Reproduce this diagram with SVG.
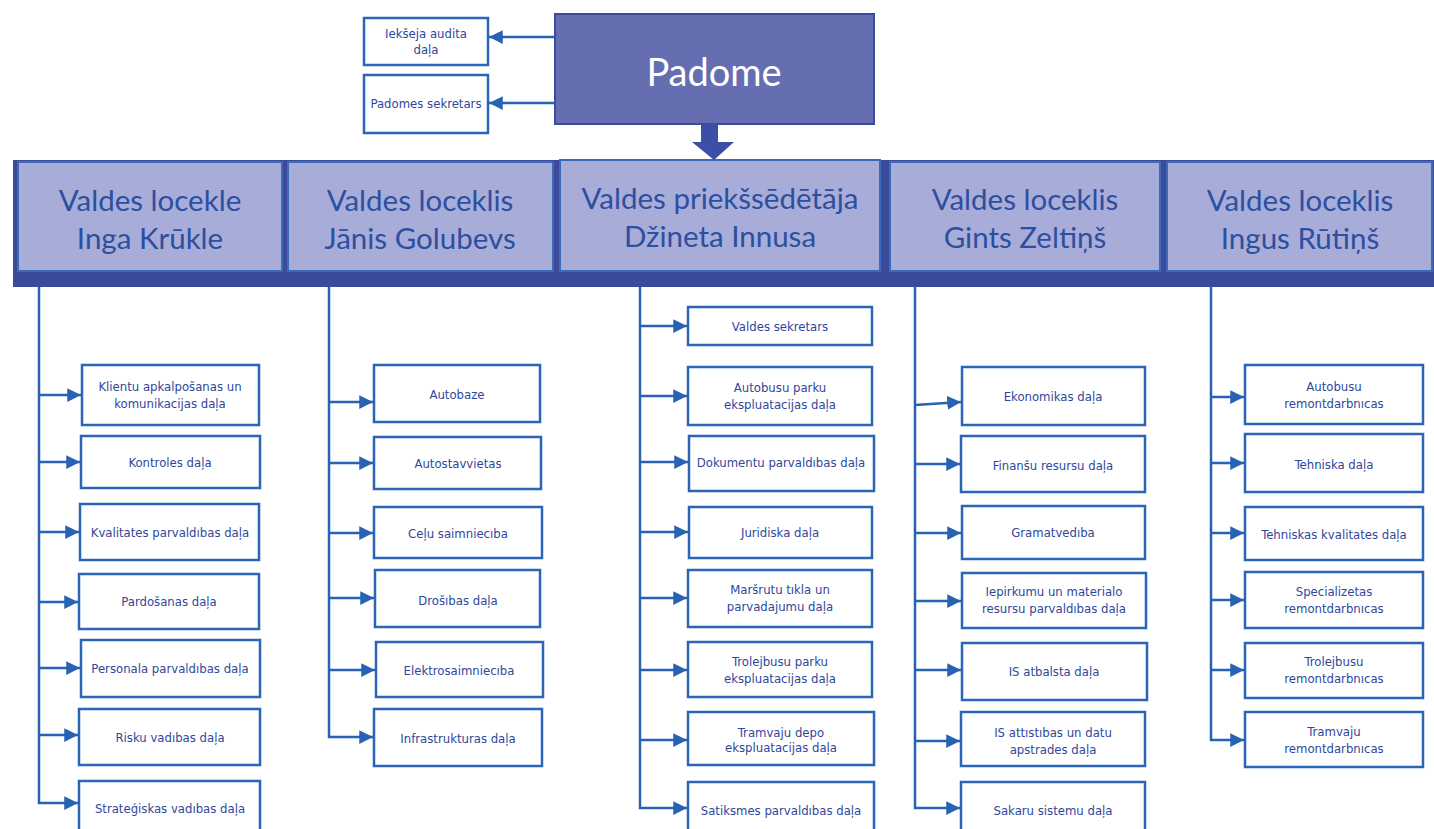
<svg xmlns="http://www.w3.org/2000/svg" width="1434" height="829" viewBox="0 0 1434 829">
<defs>
<marker id="ah" viewBox="0 0 10 10" refX="10" refY="5" markerWidth="5.5" markerHeight="5.5" markerUnits="strokeWidth" orient="auto">
<path d="M0,0 L10,5 L0,10 z" fill="#2762b4"/>
</marker>
<style>
.bx{fill:#fff;stroke:#2a66b6;stroke-width:2.5}
.hd{fill:#a7acd9;stroke:#3a6ab8;stroke-width:2}
.t{font-family:"DejaVu Sans Condensed","Liberation Sans",sans-serif;font-size:13px;fill:#2f479c;text-anchor:middle}
.h{font-family:Lato,"Open Sans",sans-serif;font-size:29.5px;fill:#2d4f9f;text-anchor:middle}
.c{fill:none;stroke:#2762b4;stroke-width:2.5}
.a{fill:none;stroke:#2762b4;stroke-width:2.5;marker-end:url(#ah)}
</style>
</defs>
<rect width="1434" height="829" fill="#fff"/>

<!-- header band -->
<rect x="13" y="160" width="1421" height="127" fill="#3c4a9c"/>

<g id="padome">
<rect x="555" y="14" width="319" height="110" fill="#666eb2" stroke="#3e49a0" stroke-width="2"/>
<text x="714" y="86" font-family="Lato,'Open Sans',sans-serif" font-size="38" fill="#fff" text-anchor="middle">Padome</text>
</g>
<g id="audit"><rect class="bx" x="364" y="18" width="124" height="47"/>
<text class="t" x="426" y="38">Iekšeja audita</text><text class="t" x="426" y="54">daļa</text></g>
<g id="padsekr"><rect class="bx" x="364" y="75" width="124" height="58"/>
<text class="t" x="426" y="108">Padomes sekretars</text></g>

<g id="h1"><rect class="hd" x="18" y="162" width="264" height="109"/>
<text class="h" x="150" y="211">Valdes locekle</text><text class="h" x="150" y="249">Inga Krūkle</text></g>
<g id="h2"><rect class="hd" x="288" y="162" width="265" height="109"/>
<text class="h" x="420" y="211">Valdes loceklis</text><text class="h" x="420" y="249">Jānis Golubevs</text></g>
<g id="h3"><rect class="hd" x="560" y="160" width="320" height="111"/>
<text class="h" x="720" y="209">Valdes priekšsēdētāja</text><text class="h" x="720" y="247">Džineta Innusa</text></g>
<g id="h4"><rect class="hd" x="890" y="162" width="270" height="109"/>
<text class="h" x="1025" y="210">Valdes loceklis</text><text class="h" x="1025" y="248">Gints Zeltiņš</text></g>
<g id="h5"><rect class="hd" x="1167" y="162" width="265" height="109"/>
<text class="h" x="1300" y="211">Valdes loceklis</text><text class="h" x="1300" y="249">Ingus Rūtiņš</text></g>

<!-- column 1 -->
<g id="c1n1"><rect class="bx" x="82" y="365" width="177" height="60"/><text class="t" x="170" y="391">Klientu apkalpošanas un</text><text class="t" x="170" y="408">komunikacijas daļa</text></g>
<g id="c1n2"><rect class="bx" x="81" y="436" width="179" height="52"/><text class="t" x="170" y="467">Kontroles daļa</text></g>
<g id="c1n3"><rect class="bx" x="80" y="504" width="179" height="56"/><text class="t" x="170" y="537">Kvalitates parvaldıbas daļa</text></g>
<g id="c1n4"><rect class="bx" x="79" y="574" width="180" height="55"/><text class="t" x="169" y="606">Pardošanas daļa</text></g>
<g id="c1n5"><rect class="bx" x="81" y="640" width="179" height="57"/><text class="t" x="170" y="673">Personala parvaldıbas daļa</text></g>
<g id="c1n6"><rect class="bx" x="79" y="709" width="181" height="56"/><text class="t" x="170" y="742">Risku vadıbas daļa</text></g>
<g id="c1n7"><rect class="bx" x="79" y="781" width="181" height="60"/><text class="t" x="170" y="813">Strateģiskas vadıbas daļa</text></g>

<!-- column 2 -->
<g id="c2n1"><rect class="bx" x="374" y="365" width="166" height="57"/><text class="t" x="457" y="399">Autobaze</text></g>
<g id="c2n2"><rect class="bx" x="374" y="437" width="167" height="52"/><text class="t" x="458" y="468">Autostavvietas</text></g>
<g id="c2n3"><rect class="bx" x="374" y="507" width="168" height="51"/><text class="t" x="458" y="538">Ceļu saimniecıba</text></g>
<g id="c2n4"><rect class="bx" x="375" y="570" width="165" height="57"/><text class="t" x="458" y="605">Drošıbas daļa</text></g>
<g id="c2n5"><rect class="bx" x="376" y="642" width="167" height="55"/><text class="t" x="459" y="675">Elektrosaimniecıba</text></g>
<g id="c2n6"><rect class="bx" x="374" y="709" width="168" height="57"/><text class="t" x="458" y="743">Infrastrukturas daļa</text></g>

<!-- column 3 -->
<g id="c3n1"><rect class="bx" x="688" y="307" width="184" height="38"/><text class="t" x="780" y="331">Valdes sekretars</text></g>
<g id="c3n2"><rect class="bx" x="688" y="367" width="184" height="58"/><text class="t" x="780" y="392">Autobusu parku</text><text class="t" x="780" y="409">ekspluatacijas daļa</text></g>
<g id="c3n3"><rect class="bx" x="689" y="436" width="185" height="55"/><text class="t" x="781" y="467">Dokumentu parvaldıbas daļa</text></g>
<g id="c3n4"><rect class="bx" x="689" y="507" width="183" height="51"/><text class="t" x="780" y="537">Juridiska daļa</text></g>
<g id="c3n5"><rect class="bx" x="688" y="570" width="184" height="57"/><text class="t" x="780" y="594">Maršrutu tıkla un</text><text class="t" x="780" y="611">parvadajumu daļa</text></g>
<g id="c3n6"><rect class="bx" x="688" y="642" width="184" height="55"/><text class="t" x="780" y="666">Trolejbusu parku</text><text class="t" x="780" y="683">ekspluatacijas daļa</text></g>
<g id="c3n7"><rect class="bx" x="688" y="712" width="186" height="53"/><text class="t" x="781" y="737">Tramvaju depo</text><text class="t" x="781" y="752">ekspluatacijas daļa</text></g>
<g id="c3n8"><rect class="bx" x="688" y="782" width="186" height="60"/><text class="t" x="781" y="815">Satiksmes parvaldıbas daļa</text></g>

<!-- column 4 -->
<g id="c4n1"><rect class="bx" x="962" y="367" width="183" height="58"/><text class="t" x="1053" y="401">Ekonomikas daļa</text></g>
<g id="c4n2"><rect class="bx" x="961" y="436" width="184" height="56"/><text class="t" x="1053" y="470">Finanšu resursu daļa</text></g>
<g id="c4n3"><rect class="bx" x="962" y="506" width="183" height="53"/><text class="t" x="1053" y="537">Gramatvedıba</text></g>
<g id="c4n4"><rect class="bx" x="962" y="573" width="184" height="55"/><text class="t" x="1054" y="596">Iepirkumu un materialo</text><text class="t" x="1054" y="613">resursu parvaldıbas daļa</text></g>
<g id="c4n5"><rect class="bx" x="962" y="643" width="185" height="57"/><text class="t" x="1054" y="676">IS atbalsta daļa</text></g>
<g id="c4n6"><rect class="bx" x="961" y="712" width="184" height="54"/><text class="t" x="1053" y="737">IS attıstıbas un datu</text><text class="t" x="1053" y="754">apstrades daļa</text></g>
<g id="c4n7"><rect class="bx" x="961" y="782" width="184" height="60"/><text class="t" x="1053" y="815">Sakaru sistemu daļa</text></g>

<!-- column 5 -->
<g id="c5n1"><rect class="bx" x="1245" y="365" width="178" height="59"/><text class="t" x="1334" y="391">Autobusu</text><text class="t" x="1334" y="408">remontdarbnıcas</text></g>
<g id="c5n2"><rect class="bx" x="1245" y="434" width="178" height="58"/><text class="t" x="1334" y="469">Tehniska daļa</text></g>
<g id="c5n3"><rect class="bx" x="1245" y="507" width="178" height="53"/><text class="t" x="1334" y="539">Tehniskas kvalitates daļa</text></g>
<g id="c5n4"><rect class="bx" x="1245" y="572" width="178" height="56"/><text class="t" x="1334" y="596">Specializetas</text><text class="t" x="1334" y="613">remontdarbnıcas</text></g>
<g id="c5n5"><rect class="bx" x="1245" y="643" width="178" height="55"/><text class="t" x="1334" y="666">Trolejbusu</text><text class="t" x="1334" y="683">remontdarbnıcas</text></g>
<g id="c5n6"><rect class="bx" x="1245" y="712" width="178" height="55"/><text class="t" x="1334" y="736">Tramvaju</text><text class="t" x="1334" y="753">remontdarbnıcas</text></g>

<g id="connectors">
<line class="a" x1="555" y1="37" x2="489" y2="37"/>
<line class="a" x1="555" y1="103" x2="489" y2="103"/>
<path d="M701,124 H718 V142 H734 L714,160 L692,142 H701 Z" fill="#3b4fa6"/>
<line class="c" x1="39" y1="287" x2="39" y2="804"/>
<line class="c" x1="329" y1="287" x2="329" y2="738"/>
<line class="c" x1="640" y1="287" x2="640" y2="809"/>
<line class="c" x1="915" y1="287" x2="915" y2="809"/>
<line class="c" x1="1211" y1="287" x2="1211" y2="741"/>
<line class="a" x1="39" y1="395" x2="81" y2="395"/>
<line class="a" x1="39" y1="462" x2="80" y2="462"/>
<line class="a" x1="39" y1="532" x2="79" y2="532"/>
<line class="a" x1="39" y1="602" x2="78" y2="602"/>
<line class="a" x1="39" y1="668" x2="80" y2="668"/>
<line class="a" x1="39" y1="735" x2="78" y2="735"/>
<line class="a" x1="38" y1="803" x2="78" y2="803"/>
<line class="a" x1="329" y1="402" x2="373" y2="402"/>
<line class="a" x1="329" y1="463" x2="373" y2="463"/>
<line class="a" x1="329" y1="533" x2="373" y2="533"/>
<line class="a" x1="329" y1="598" x2="374" y2="598"/>
<line class="a" x1="329" y1="670" x2="375" y2="670"/>
<line class="a" x1="328" y1="737" x2="373" y2="737"/>
<line class="a" x1="640" y1="326" x2="687" y2="326"/>
<line class="a" x1="640" y1="396" x2="687" y2="396"/>
<line class="a" x1="640" y1="462" x2="688" y2="462"/>
<line class="a" x1="640" y1="532" x2="688" y2="532"/>
<line class="a" x1="640" y1="598" x2="687" y2="598"/>
<line class="a" x1="640" y1="670" x2="687" y2="670"/>
<line class="a" x1="640" y1="740" x2="687" y2="740"/>
<line class="a" x1="639" y1="808" x2="687" y2="808"/>
<line class="a" x1="915" y1="405" x2="961" y2="402"/>
<line class="a" x1="915" y1="464" x2="960" y2="464"/>
<line class="a" x1="915" y1="533" x2="961" y2="533"/>
<line class="a" x1="915" y1="601" x2="961" y2="601"/>
<line class="a" x1="915" y1="670" x2="961" y2="670"/>
<line class="a" x1="915" y1="741" x2="960" y2="741"/>
<line class="a" x1="914" y1="808" x2="960" y2="808"/>
<line class="a" x1="1211" y1="397" x2="1244" y2="397"/>
<line class="a" x1="1211" y1="463" x2="1244" y2="463"/>
<line class="a" x1="1211" y1="533" x2="1244" y2="533"/>
<line class="a" x1="1211" y1="600" x2="1244" y2="600"/>
<line class="a" x1="1211" y1="670" x2="1244" y2="670"/>
<line class="a" x1="1210" y1="740" x2="1244" y2="740"/>
</g>
</svg>
